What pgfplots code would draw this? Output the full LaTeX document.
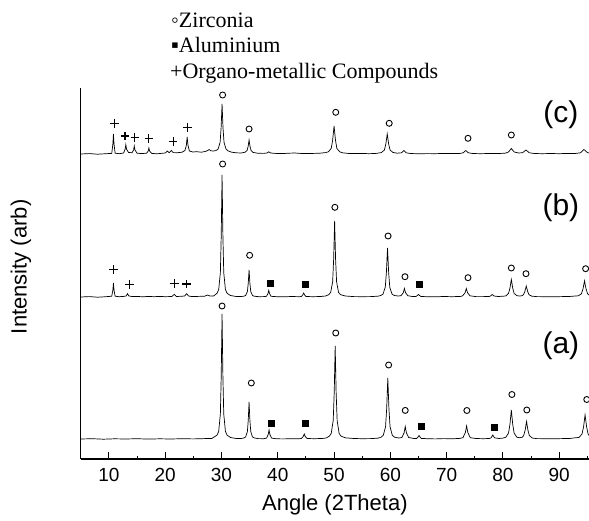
\documentclass[border=0pt]{standalone}
\usepackage{fontspec}
\setmainfont{Liberation Sans}
\newfontfamily\legfont{Liberation Serif}
\usepackage{pgfplots}
\pgfplotsset{compat=1.18}
\begin{document}
\begin{tikzpicture}
\path[use as bounding box] (0,0) rectangle (589pt,520pt);
\begin{axis}[
  at={(80.8pt,61pt)}, anchor=south west,
  scale only axis, width=508.2pt, height=371pt,
  xmin=5, xmax=95.3, ymin=0, ymax=371,
  axis x line=bottom, axis y line=left,
  axis line style={-, line width=1.3pt},
  every outer x axis line/.append style={-},
  every outer y axis line/.append style={-},
  xtick={10,20,...,90}, minor xtick={15,25,...,95},
  ytick=\empty,
  tick align=inside,
  major tick length=7.5pt, minor tick length=3.5pt,
  every tick/.style={black, line width=1pt},
  /pgf/number format/assume math mode=true,
  xticklabel style={font=\fontsize{19}{19}\selectfont, anchor=base, yshift=-22pt},
  xlabel={Angle (2Theta)}, ylabel={Intensity (arb)},
  xlabel style={font=\fontsize{22}{22}\selectfont, at={(axis description cs:0.5,-0.124)}, anchor=center},
  ylabel style={font=\fontsize{22}{22}\selectfont, at={(axis description cs:-0.118,0.518)}, anchor=center},
]
% ---- trace (a)
\addplot[black, line width=0.7pt] table {
5 20
7 20.3
9 19.8
11 20.2
13 20
15 20.3
17 19.9
19 20.2
21 20
23 20.3
25 20.1
27 20.4
28.3 20.6
29.2 23.8
29.5 27.5
29.8 45
29.95 82.5
30.1 145
30.25 82.5
30.4 45
30.7 27.5
31.0 23.8
31.6 21.5
32.5 20.6
33.5 20.5
34.0 21.1
34.3 22.2
34.6 27.4
34.75 38.5
34.9 57
35.05 38.5
35.2 27.4
35.5 22.2
35.8 21.1
36.5 20.4
37.5 20.3
38.0 20.9
38.3 24.5
38.45 29
38.6 24.5
38.9 20.9
39.8 20.2
41 20.1
42.5 20.3
43.6 20.2
44.2 20.5
44.52 22.5
44.7 25
44.88 22.5
45.2 20.5
46.5 20.3
47.8 20.5
48.6 21
49.15 22.8
49.5 25.6
49.85 38.6
50.03 66.5
50.2 113
50.37 66.5
50.55 38.6
50.9 25.6
51.25 22.8
52 21.2
53.5 20.5
55 20.3
56.5 20.4
57.8 20.8
58.35 21.8
58.75 23.7
59.15 32.2
59.35 50.5
59.55 81
59.75 50.5
59.95 32.2
60.35 23.7
60.75 21.8
61.5 21
62.05 21.5
62.45 26.3
62.65 32.5
62.85 26.3
63.25 21.5
64.2 20.5
64.7 20.6
64.9 21.8
65.1 23.5
65.3 21.8
65.5 20.6
66.5 20.3
68 20.1
69.5 20.4
71 20.2
72.3 20.6
72.9 21.3
73.33 26.5
73.55 33
73.77 26.5
74.2 21.3
75.2 20.5
76.5 20.3
77.6 20.5
77.9 21.2
78.2 24
78.5 21.2
79.3 20.5
80.0 20.9
80.5 21.7
81.0 25.8
81.25 34.5
81.5 49
81.75 34.5
82.0 25.8
82.5 21.7
83.0 21.3
83.45 21.8
83.7 23.5
83.95 28.8
84.2 37.5
84.45 28.8
84.7 23.5
85.2 21
86 20.4
87.5 20.3
89 20.2
90.5 20.4
92 20.6
93.0 21.3
93.5 21.5
94.05 24.8
94.33 32
94.6 44
94.88 32
95.15 24.8
95.3 23.5
};
% ---- trace (b)
\addplot[black, line width=0.7pt] table {
5 162
6.5 162.4
8 161.8
9.5 162.3
10.5 162.8
10.7 169
10.8 176
10.9 169
11.1 162.8
11.8 162.3
12.6 162.6
13.05 163
13.3 165.3
13.55 163
14.2 162.4
15 162.6
16 162.2
17 162.6
18 162.3
19 162.6
20 162.3
21.2 162.5
21.6 164.7
22 162.5
22.8 162.7
23.45 163
23.8 165.3
24.15 163
24.8 162.4
25.8 162.6
27 162.8
27.5 164
28 162.9
28.6 163
29.2 165.7
29.5 169.3
29.8 186.4
29.95 223
30.1 284
30.25 223
30.4 186.4
30.7 169.3
31.0 165.7
31.6 163.5
32.5 162.6
33.5 162.5
34.0 162.8
34.3 163.6
34.6 167.4
34.75 175.5
34.9 189
35.05 175.5
35.2 167.4
35.5 163.6
35.8 162.8
36.6 162.3
37.5 162.4
38.0 162.7
38.25 165.3
38.4 168.7
38.55 165.3
38.8 162.7
39.8 162.3
41 162.2
42.5 162.5
43.8 162.3
44.2 162.5
44.42 164
44.6 166
44.78 164
45.0 162.5
46.3 162.3
47.6 162.5
48.5 163
49.05 164.3
49.4 166.6
49.75 177.2
49.93 200
50.1 238
50.27 200
50.45 177.2
50.8 166.6
51.15 164.3
52 163
53.5 162.4
55 162.3
56.5 162.4
57.8 162.8
58.3 163.5
58.7 164.9
59.1 171.8
59.3 186.5
59.5 211
59.7 186.5
59.9 171.8
60.3 164.9
60.7 163.5
61.4 163
61.9 163.3
62.3 166.3
62.5 170.5
62.7 166.3
63.1 163.3
64.0 162.4
64.6 162.6
65.0 164.5
65.4 162.6
66.4 162.3
68 162.2
69.5 162.5
71 162.3
72.5 162.6
72.85 163.2
73.28 166.3
73.5 170.5
73.72 166.3
74.15 163.2
75.2 162.4
76.6 162.4
77.6 162.6
77.8 163
78.1 164.5
78.4 163
79.2 162.5
80.0 162.8
80.5 163
81.0 165.5
81.25 170.8
81.5 179.5
81.75 170.8
82.0 165.5
82.5 163.3
83.0 163
83.4 163.3
83.65 164.2
83.9 167.5
84.15 173
84.4 167.5
84.65 164.2
85.15 162.8
86 162.4
87.5 162.3
89 162.2
90.5 162.4
92 162.6
92.9 163
93.4 163.2
93.95 165.2
94.23 170
94.5 178
94.78 170
95.05 165.2
95.3 164
};
% ---- trace (c)
\addplot[black, line width=0.7pt] table {
5 305
6.5 305.4
8 304.8
9.5 305.3
10.5 305.6
10.7 315
10.8 325
10.9 315
11.1 305.8
11.8 305.3
12.6 306
12.88 309.8
13.0 314.5
13.12 309.8
13.5 306.5
14.1 306.3
14.38 309
14.5 313
14.62 309
15.0 305.8
15.8 305.4
16.7 305.8
16.98 308
17.1 311
17.22 308
17.6 305.6
18.5 305.2
19.4 305.7
20.0 306
20.4 308
20.7 306.3
21.1 308.5
21.4 306.4
22.2 306.3
23.0 306.8
23.5 308.5
23.75 313.5
23.9 322
24.05 313.5
24.3 308
24.9 307
25.6 307.3
26.4 306.8
27.1 307.5
27.5 308.3
27.8 309.5
28.1 308.2
28.6 308
29.05 308.5
29.4 310
29.75 316.6
29.93 331
30.1 355
30.27 331
30.45 316.6
30.8 310
31.15 308.2
31.8 306.8
32.6 306.2
33.5 306
34.2 306.8
34.55 308.6
34.73 312.5
34.9 319
35.07 312.5
35.25 308.6
35.6 306.6
36.4 305.8
37.4 305.6
38.1 306
38.4 307.2
38.7 306
39.6 305.6
40.8 305.4
42 305.8
43 306
44 305.6
45.2 305.5
46.4 305.6
47.5 305.8
48.5 306.4
49.0 307.2
49.5 310.6
49.75 319
50.0 333
50.25 319
50.5 310.6
51.0 307.2
51.5 306.2
52.5 305.6
53.8 305.4
55 305.6
56.2 305.3
57.5 305.6
58.4 306.4
58.95 309
59.2 315
59.45 325
59.7 315
59.95 309
60.45 306.6
61.2 305.8
62.0 306.2
62.4 308.5
62.8 306.2
63.6 305.5
65 305.2
66.5 305.4
68 305.3
69.5 305.6
71 305.4
72.4 305.6
73.0 306.3
73.4 308.5
73.8 306.3
74.6 305.5
76 305.3
77.5 305.5
79 305.4
80.4 305.8
81.0 307
81.5 310.5
82.0 307
82.8 306
83.5 306.3
84.1 309
84.7 306.2
85.6 305.5
87 305.3
88.5 305.5
90 305.3
91.5 305.6
92.8 305.5
93.8 306.2
94.4 309.5
95.0 306.5
95.3 306
};
% ---- Zirconia markers
\addplot[only marks, mark=o, mark size=3pt, mark options={line width=0.9pt}] coordinates {
(30.1,153) (35.3,76) (50.3,126) (59.7,94) (62.65,48.6) (73.6,48.5) (81.6,64.5) (84.25,49) (94.9,59.5)
(30.2,295) (35.0,203.7) (50.15,251.7) (59.6,223) (62.6,182.3) (73.8,181.3) (81.5,191) (84.1,185.3) (94.7,190.3)
(30.2,364) (34.9,330) (50.3,346.7) (59.8,335.7) (73.8,320.7) (81.5,324)
};
% ---- Aluminium markers
\addplot[only marks, mark=square*, mark size=3pt] coordinates {
(38.9,36) (44.95,36) (65.5,32.7) (78.4,31.5)
(38.6,176.3) (44.9,175) (65.1,174.7)
};
% ---- Organo-metallic markers
\addplot[only marks, mark=+, mark size=4.3pt, mark options={line width=1.1pt}] coordinates {
(10.8,189.7) (13.6,174.3) (21.6,175.7) (23.8,175)
(11.0,335.7) (12.85,323) (14.6,321.7) (17.1,320.7) (21.4,317.3) (24.0,331.3)
};
\node[font=\fontsize{30}{30}\selectfont] at (axis cs:90.3,344) {(c)};
\node[font=\fontsize{30}{30}\selectfont] at (axis cs:90.3,251.5) {(b)};
\node[font=\fontsize{30}{30}\selectfont] at (axis cs:90.3,113) {(a)};
\end{axis}
\node[anchor=base west, inner sep=0pt, font=\legfont\fontsize{22}{22}\selectfont] at (171pt,{520pt-27.3pt}) {◦Zirconia};
\node[anchor=base west, inner sep=0pt, font=\legfont\fontsize{22}{22}\selectfont] at (171pt,{520pt-52.7pt}) {▪Aluminium};
\node[anchor=base west, inner sep=0pt, font=\legfont\fontsize{22}{22}\selectfont] at (170pt,{520pt-78.3pt}) {+Organo-metallic Compounds};
\end{tikzpicture}
\end{document}
